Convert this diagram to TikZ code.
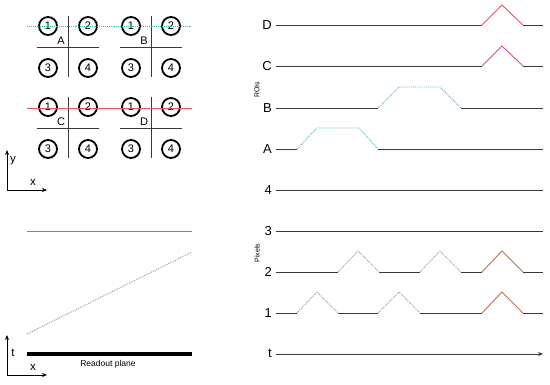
\documentclass[tikz,border=0pt]{standalone}
\usepackage{fontspec}
\setmainfont{Liberation Sans}
\setsansfont{Liberation Sans}
\usepackage{xcolor}
\usetikzlibrary{arrows.meta,positioning}
\definecolor{roi}{HTML}{E8506A}
\definecolor{hit}{HTML}{B8704F}
\definecolor{trk}{HTML}{3CC49A}
\definecolor{ghost}{HTML}{8A9E94}
\definecolor{ink}{HTML}{3A3A3A}
\tikzset{
  pad/.style={draw, circle, line width=1.8pt, minimum size=18pt, inner sep=0pt, font=\fontsize{11}{11}\selectfont},
  split/.style={draw=ink, line width=0.8pt},
  trace/.style={draw=ink, line width=0.9pt},
  redtrace/.style={draw=roi, line width=0.9pt},
  browntrace/.style={draw=hit, line width=0.9pt},
  greentrace/.style={draw=trk, line width=0.9pt, densely dotted},
  graytrace/.style={draw=ghost, line width=0.9pt, densely dotted},
  rowlbl/.style={anchor=east, inner sep=1pt, font=\fontsize{13}{13}\selectfont},
  axlbl/.style={font=\fontsize{11.5}{11}\selectfont, inner sep=0pt},
  side/.style={rotate=90, font=\fontsize{7}{7}\selectfont, inner sep=0pt},
  axis/.style={-{Stealth[length=5pt, width=4pt]}, line width=0.8pt},
}

\begin{document}
\begin{tikzpicture}[x=1pt, y=-1pt]
  \useasboundingbox (0,0) rectangle (550,385);

  % four quadrant pads, A B C D
  \foreach \g/\cx/\cy in {A/68/47, B/151/47, C/68/128, D/151/128} {
    \draw[split] (\cx,\cy-31) -- (\cx,\cy+30);
    \draw[split] (\cx-31,\cy) -- (\cx+31,\cy);
    \node[pad] (\g1) at (\cx-20,\cy-21) {1};
    \node[pad] (\g2) at (\cx+20,\cy-21) {2};
    \node[pad] (\g3) at (\cx-20,\cy+21) {3};
    \node[pad] (\g4) at (\cx+20,\cy+21) {4};
    \node[font=\fontsize{11}{10}\selectfont, inner sep=0pt] (lbl\g) at (\cx-7,\cy-6) {\g};
  }
  \draw[greentrace] (27,26) -- (192,26);
  \draw[redtrace] (27,108) -- (192,108);

  % x-y axes
  \coordinate (oxy) at (7,190);
  \draw[axis] (oxy) -- (7,150);
  \draw[axis] (oxy) -- (47,190);
  \node[axlbl] (ly) at (13,161) {y};
  \node[axlbl] (lx) at (33,182) {x};

  % side view, x-t
  \draw[browntrace] (27,231) -- (192,231);
  \draw[graytrace] (27,334) -- (192,252);
  \draw[line width=3.5pt] (27,354) -- (192,354);
  \node[font=\fontsize{8.5}{8}\selectfont] (plane) at (108,364) {Readout plane};
  \coordinate (oxt) at (7,375);
  \draw[axis] (oxt) -- (7,335);
  \draw[axis] (oxt) -- (47,375);
  \node[axlbl] (lt) at (13,353) {t};
  \node[axlbl] (lx2) at (33,367) {x};

  % signals vs time
  \node[rowlbl] (rD) at (273,25) {D};
  \node[rowlbl] (rC) at (273,66) {C};
  \node[rowlbl] (rB) at (273,108) {B};
  \node[rowlbl] (rA) at (273,149) {A};
  \node[rowlbl] (r4) at (273,190) {4};
  \node[rowlbl] (r3) at (273,231) {3};
  \node[rowlbl] (r2) at (273,272) {2};
  \node[rowlbl] (r1) at (273,313) {1};
  \node[rowlbl] (rt) at (273,353) {t};
  \node[side] (rois) at (257,90) {ROIs};
  \node[side] (pix) at (257,253) {Pixels};

  \draw[trace] (276,25) -- (482,25);
  \draw[redtrace] (482,25) -- (502,5) -- (523,25);
  \draw[trace] (523,25) -- (543,25);

  \draw[trace] (276,66) -- (482,66);
  \draw[redtrace] (482,66) -- (502,46) -- (523,66);
  \draw[trace] (523,66) -- (543,66);

  \draw[trace] (276,108) -- (378,108);
  \draw[greentrace] (378,108) -- (399,87) -- (440,87) -- (461,108);
  \draw[trace] (461,108) -- (543,108);

  \draw[trace] (276,149) -- (297,149);
  \draw[greentrace] (297,149) -- (317,128) -- (359,128) -- (378,149);
  \draw[trace] (378,149) -- (543,149);

  \draw[trace] (276,190) -- (543,190);
  \draw[trace] (276,231) -- (543,231);

  \draw[trace] (276,272) -- (338,272);
  \draw[graytrace] (338,272) -- (358,251) -- (379,272);
  \draw[trace] (379,272) -- (420,272);
  \draw[graytrace] (420,272) -- (440,251) -- (461,272);
  \draw[trace] (461,272) -- (482,272);
  \draw[browntrace] (482,272) -- (502,251) -- (523,272);
  \draw[trace] (523,272) -- (543,272);

  \draw[trace] (276,313) -- (297,313);
  \draw[graytrace] (297,313) -- (317,292) -- (338,313);
  \draw[trace] (338,313) -- (378,313);
  \draw[graytrace] (378,313) -- (399,292) -- (420,313);
  \draw[trace] (420,313) -- (482,313);
  \draw[browntrace] (482,313) -- (502,292) -- (523,313);
  \draw[trace] (523,313) -- (543,313);

  \draw[axis, ink] (276,354) -- (543,354);
\end{tikzpicture}
\end{document}
